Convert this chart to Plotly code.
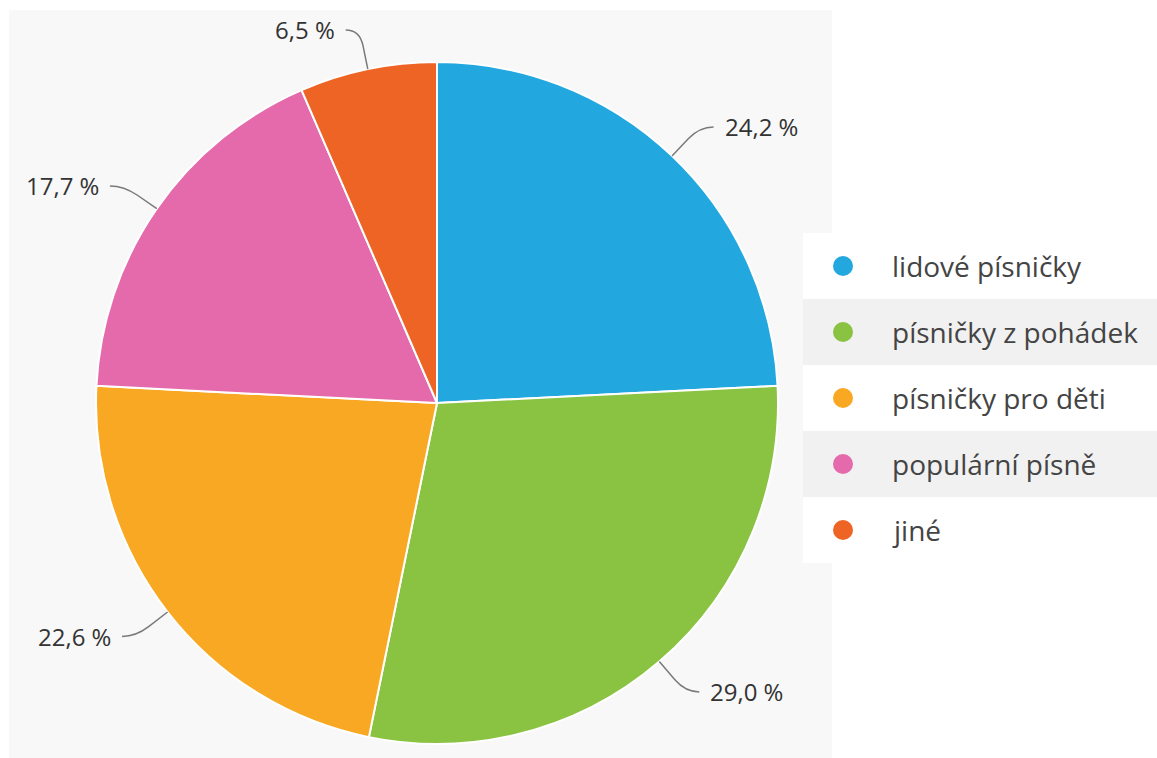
import math
import plotly.graph_objects as go

# ---- data ----
categories = ["lidové písničky", "písničky z pohádek", "písničky pro děti", "populární písně", "jiné"]
values = [24.2, 29.0, 22.6, 17.7, 6.5]
colors = ["#22a7df", "#89c341", "#f9a823", "#e46aab", "#ee6424"]

# ---- layout geometry (pixels) ----
W, H = 1157, 758
cx, cy, R = 437, 403, 341
DIST, HOOK, GAP = 40, 14, 9

fig = go.Figure()

fig.add_trace(go.Pie(
    labels=categories,
    values=values,
    sort=False,
    direction="clockwise",
    rotation=0,
    marker=dict(colors=colors, line=dict(color="white", width=2)),
    textinfo="none",
    hoverinfo="skip",
    showlegend=False,
    domain=dict(x=[(cx - R) / W, (cx + R) / W], y=[(H - cy - R) / H, (H - cy + R) / H]),
))

shapes = []
annotations = []

# background panels
shapes.append(dict(type="rect", xref="x", yref="y", x0=9, x1=832, y0=10, y1=H,
                   fillcolor="#f8f8f8", line=dict(width=0), layer="below"))
# legend box
leg_top, row_h = 233, 66
shapes.append(dict(type="rect", xref="x", yref="y", x0=803, x1=W, y0=leg_top,
                   y1=leg_top + row_h * len(categories),
                   fillcolor="#ffffff", line=dict(width=0), layer="below"))
for i in range(len(categories)):
    if i % 2 == 1:
        shapes.append(dict(type="rect", xref="x", yref="y", x0=803, x1=W,
                           y0=leg_top + row_h * i, y1=leg_top + row_h * (i + 1),
                           fillcolor="#f1f1f1", line=dict(width=0), layer="below"))

# data labels with leader lines
total = sum(values)
cum = 0.0
for v in values:
    mid = (cum + v / 2) / total * 2 * math.pi
    cum += v
    ux, uy = math.sin(mid), -math.cos(mid)
    p0 = (cx + R * ux, cy + R * uy)
    p1 = (cx + (R + DIST) * ux, cy + (R + DIST) * uy)
    pm = (p0[0] + 0.6 * (p1[0] - p0[0]), p0[1] + 0.6 * (p1[1] - p0[1]))
    side = 1 if ux >= 0 else -1
    p2 = (p1[0] + side * HOOK, p1[1])
    shapes.append(dict(type="path", xref="x", yref="y",
                       path=f"M {p0[0]:.1f},{p0[1]:.1f} L {pm[0]:.1f},{pm[1]:.1f} "
                            f"Q {p1[0]:.1f},{p1[1]:.1f} {p2[0]:.1f},{p2[1]:.1f}",
                       line=dict(color="#7a7a7a", width=1.5)))
    txt = f"{v:.1f}".replace(".", ",") + " %"
    annotations.append(dict(x=p2[0] + side * GAP, y=p2[1], xref="x", yref="y", text=txt,
                            showarrow=False, xanchor="left" if side > 0 else "right",
                            yanchor="middle", font=dict(family="Open Sans", size=24, color="#333333")))

# custom legend
leg_y = [leg_top + row_h * (i + 0.5) for i in range(len(categories))]
fig.add_trace(go.Scatter(
    x=[843] * len(categories), y=leg_y, mode="markers",
    marker=dict(size=20, color=colors, symbol="circle"),
    hoverinfo="skip", showlegend=False,
))
for name, yy in zip(categories, leg_y):
    annotations.append(dict(x=890, y=yy, xref="x", yref="y", text=name, showarrow=False,
                            xanchor="left", yanchor="middle",
                            font=dict(family="Open Sans", size=28, color="#444444")))

fig.update_layout(
    width=W, height=H,
    margin=dict(l=0, r=0, t=0, b=0),
    paper_bgcolor="white", plot_bgcolor="rgba(0,0,0,0)",
    xaxis=dict(range=[0, W], visible=False, fixedrange=True),
    yaxis=dict(range=[H, 0], visible=False, fixedrange=True),
    shapes=shapes, annotations=annotations,
    showlegend=False,
)

fig.write_html("out.html", config={"displayModeBar": False},
               post_script="document.body.style.margin='0px';document.body.style.overflow='hidden';")
